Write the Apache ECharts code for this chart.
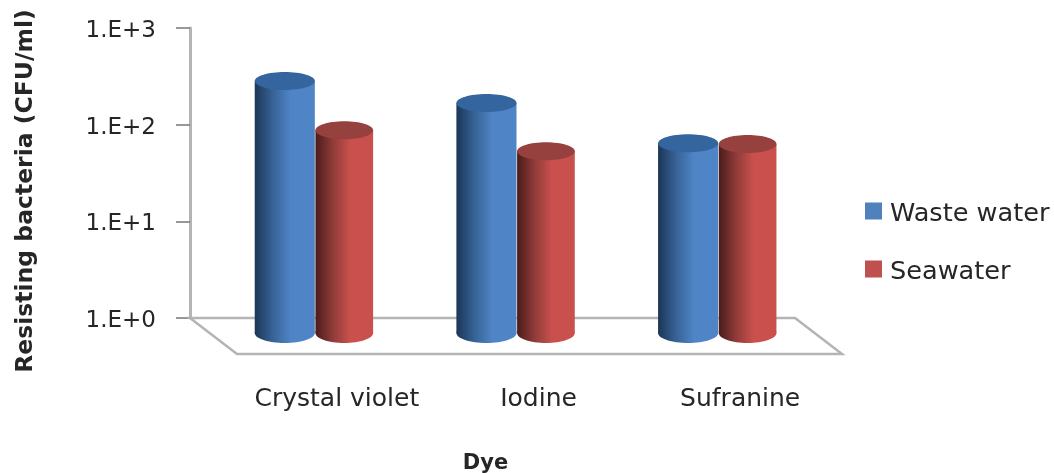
<!DOCTYPE html>
<html lang="en">
<head>
<meta charset="UTF-8">
<title>Resisting bacteria by dye</title>
<style>
    html, body { margin: 0; padding: 0; background: #fff; }
    #container { width: 1054px; height: 473px; }
    /* the source picture is a soft, upscaled bitmap */
    #container canvas { filter: blur(0.5px); }
</style>
</head>
<body>
<div id="container"></div>
<script src="https://cdn.jsdelivr.net/npm/echarts@6/dist/echarts.min.js"></script>
<script>
    var categories = ['Crystal violet', 'Iodine', 'Sufranine'];
    var wasteWater = [404, 239, 92];
    var seawater = [125, 76, 90];
    var yTickLabels = { 1: '1.E+0', 10: '1.E+1', 100: '1.E+2', 1000: '1.E+3' };

    var FONT = '"DejaVu Sans", sans-serif';
    var TEXT = '#262626';
    var GREY = '#b4b4b4';
    // 3D look: floor depth, and how far a cylinder stands in from the back wall
    var FLOOR_DX = 47, FLOOR_DY = 36;
    var BAR_DX = 24, BAR_DY = 15;
    var RY = 9;

    function cylinder(offset, halfWidth, dark, mid, top) {
        return function (params, api) {
            var band = api.size([1, 0])[0];
            var head = api.coord([api.value(0), api.value(1)]);
            var base = api.coord([api.value(0), 1]);
            var cx = head[0] + BAR_DX + offset * band;
            var rx = halfWidth * band;
            var yTop = head[1] + BAR_DY;
            var yBase = base[1] + BAR_DY;
            var fill = new echarts.graphic.LinearGradient(0, 0, 1, 0, [
                { offset: 0, color: dark },
                { offset: 0.3, color: mid[0] },
                { offset: 0.6, color: mid[1] },
                { offset: 1, color: mid[1] }
            ]);
            return {
                type: 'group',
                children: [
                    { type: 'ellipse', shape: { cx: cx, cy: yBase, rx: rx, ry: RY + 1 }, style: { fill: fill } },
                    { type: 'rect', shape: { x: cx - rx, y: yTop, width: rx * 2, height: yBase - yTop }, style: { fill: fill } },
                    { type: 'ellipse', shape: { cx: cx, cy: yTop, rx: rx, ry: RY }, style: { fill: top } }
                ]
            };
        };
    }

    function floor(params, api) {
        var a = api.coord([0, 1]);
        var band = api.size([1, 0])[0];
        var left = a[0] - band / 2;
        var right = left + band * categories.length;
        var y = a[1];
        return {
            type: 'polygon',
            shape: { points: [[left, y], [right, y], [right + FLOOR_DX, y + FLOOR_DY], [left + FLOOR_DX, y + FLOOR_DY]] },
            style: { fill: '#ffffff', stroke: GREY, lineWidth: 2.5 }
        };
    }

    var mainChart = echarts.init(document.getElementById('container'));
    mainChart.setOption({
        backgroundColor: '#ffffff',
        animation: false,
        grid: [
            { left: 190, top: 28, width: 605, height: 290, outerBoundsMode: 'none' },
            { left: 236, top: 64, width: 605, height: 290, outerBoundsMode: 'none' }
        ],
        legend: {
            data: ['Waste water', 'Seawater'],
            orient: 'vertical',
            left: 865,
            top: 201,
            padding: 0,
            itemWidth: 17,
            itemHeight: 17,
            itemGap: 32,
            icon: 'rect',
            formatter: '{t|{name}}',
            textStyle: {
                rich: { t: { fontFamily: FONT, fontSize: 25.6, color: TEXT, padding: [6, 0, 0, 3] } }
            }
        },
        xAxis: [{
            gridIndex: 0,
            type: 'category',
            data: categories,
            name: 'Dye',
            nameLocation: 'center',
            nameGap: 135,
            nameTextStyle: { fontFamily: FONT, fontSize: 21, fontWeight: 'bold', color: TEXT, padding: [0, 14, 0, 0] },
            axisLine: { show: false },
            axisTick: { show: false },
            axisLabel: { show: false }
        }, {
            gridIndex: 1,
            type: 'category',
            data: categories,
            axisLine: { show: false },
            axisTick: { show: false },
            axisLabel: { interval: 0, margin: 33, fontFamily: FONT, fontSize: 25, color: TEXT }
        }],
        yAxis: [{
            gridIndex: 0,
            type: 'log',
            logBase: 10,
            min: 1,
            max: 1000,
            name: 'Resisting bacteria (CFU/ml)',
            nameLocation: 'center',
            nameGap: 152,
            nameTextStyle: { fontFamily: FONT, fontSize: 23.5, fontWeight: 'bold', color: TEXT, padding: [0, 36, 0, 0] },
            axisLine: { show: true, lineStyle: { color: GREY, width: 3 } },
            axisTick: { show: true, length: 14, lineStyle: { color: '#777777', width: 1.5 } },
            minorTick: { show: false },
            splitLine: { show: false },
            axisLabel: {
                margin: 34,
                formatter: function (v) { return '{t|' + yTickLabels[Math.round(v)] + '}'; },
                rich: { t: { fontFamily: FONT, fontSize: 23, color: TEXT, padding: [6, 0, 0, 0] } }
            }
        }, {
            gridIndex: 1,
            type: 'value',
            show: false
        }],
        series: [{
            name: 'floor',
            type: 'custom',
            xAxisIndex: 0,
            yAxisIndex: 0,
            z: 1,
            data: [[0, 1]],
            renderItem: floor
        }, {
            name: 'Seawater',
            type: 'custom',
            xAxisIndex: 0,
            yAxisIndex: 0,
            z: 2,
            itemStyle: { color: '#c0504d' },
            data: seawater.map(function (v, i) { return [i, v]; }),
            renderItem: cylinder(0.146, 0.143, '#4a1c1b', ['#8f3b38', '#c9504d'], '#97413e')
        }, {
            name: 'Waste water',
            type: 'custom',
            xAxisIndex: 0,
            yAxisIndex: 0,
            z: 3,
            itemStyle: { color: '#4f81bd' },
            data: wasteWater.map(function (v, i) { return [i, v]; }),
            renderItem: cylinder(-0.149, 0.149, '#1b3557', ['#376396', '#4f84c6'], '#35659e')
        }]
    });
</script>
</body>
</html>
